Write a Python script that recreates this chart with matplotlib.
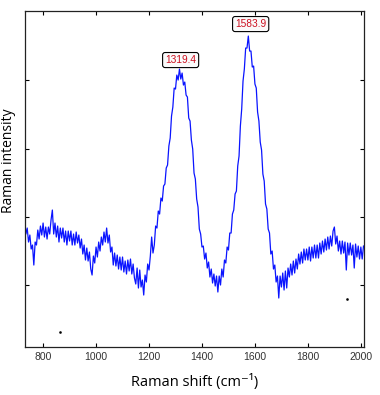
import matplotlib
matplotlib.use('Agg')
import matplotlib.pyplot as plt

# Raman spectrum (arbitrary intensity units)
shift = list(range(730, 2015, 5))
intensity = [
    130, 116, 122, 108, 115, 101, 105, 85, 108, 105,
    120, 111, 124, 115, 127, 113, 123, 111, 123, 116,
    130, 140, 116, 127, 113, 124, 108, 122, 112, 122,
    108, 119, 105, 119, 109, 119, 105, 116, 105, 118,
    107, 115, 102, 111, 96, 105, 90, 102, 89, 98,
    81, 75, 94, 87, 103, 93, 108, 99, 113, 105,
    118, 108, 122, 107, 115, 98, 103, 85, 97, 84,
    95, 81, 93, 80, 93, 78, 89, 76, 90, 79,
    91, 76, 86, 72, 66, 82, 62, 80, 63, 70,
    55, 75, 68, 86, 80, 94, 113, 97, 105, 124,
    122, 139, 136, 152, 149, 164, 166, 182, 185, 204,
    212, 234, 243, 262, 261, 275, 270, 281, 271, 277,
    265, 268, 255, 253, 232, 229, 210, 201, 177, 171,
    151, 143, 121, 116, 103, 104, 91, 97, 82, 88,
    73, 81, 67, 76, 64, 74, 58, 74, 65, 81,
    73, 90, 87, 103, 100, 117, 117, 136, 140, 156,
    159, 184, 194, 224, 241, 269, 281, 302, 302, 314,
    299, 299, 283, 284, 266, 262, 238, 229, 208, 200,
    176, 169, 146, 141, 121, 117, 96, 99, 81, 85,
    68, 74, 52, 74, 63, 77, 60, 79, 62, 82,
    73, 86, 75, 89, 77, 91, 81, 96, 86, 98,
    87, 101, 90, 101, 90, 103, 89, 103, 92, 105,
    92, 105, 92, 107, 96, 109, 98, 111, 100, 113,
    101, 114, 104, 119, 123, 106, 114, 99, 109, 96,
    109, 97, 108, 80, 107, 95, 107, 95, 105, 82,
    106, 93, 104, 91, 103, 91, 104,
]

peak_pos = [1319.4, 1583.9]
peak_labels = ['1319.4', '1583.9']
label_height = [290, 326]

# stray specks in the original image
speck_x = [864, 1946]
speck_y = [18, 51]

fig = plt.figure(figsize=(3.8, 3.95), dpi=100)
ax = fig.add_axes([0.066, 0.1215, 0.892, 0.8505])

ax.plot(shift, intensity, color='#0a14ff', linewidth=0.9)
ax.plot(speck_x, speck_y, linestyle='none', marker='s', markersize=0.8, color='black')

for pos, text, h in zip(peak_pos, peak_labels, label_height):
    ax.text(pos, h, text, ha='center', va='center', fontsize=7.3,
            family='Liberation Sans', color='#cc1020',
            bbox=dict(boxstyle='round,pad=0.25', facecolor='#fafafa',
                      edgecolor='black', linewidth=0.8))

ax.set_xlim(732, 2012)
ax.set_ylim(3, 339)
ax.set_xticks([800, 1000, 1200, 1400, 1600, 1800, 2000])
ax.set_yticks([65, 133, 201, 270])
ax.set_yticklabels([])
ax.tick_params(direction='in', top=True, right=True, length=3, width=0.8,
               labelsize=7.5, labelcolor='#333333')
for label in ax.get_xticklabels():
    label.set_family('Liberation Sans')
for spine in ax.spines.values():
    spine.set_linewidth(0.9)
    spine.set_color('#222222')

ax.set_xlabel('Raman shift (cm\u207b\u00b9)', fontsize=10.5,
              family=['Open Sans', 'DejaVu Sans'], labelpad=9)
ax.set_ylabel('Raman intensity', fontsize=10,
              family=['Open Sans', 'DejaVu Sans'])
ax.yaxis.set_label_coords(-0.026, 0.555)

fig.savefig('out.png', dpi=100)
